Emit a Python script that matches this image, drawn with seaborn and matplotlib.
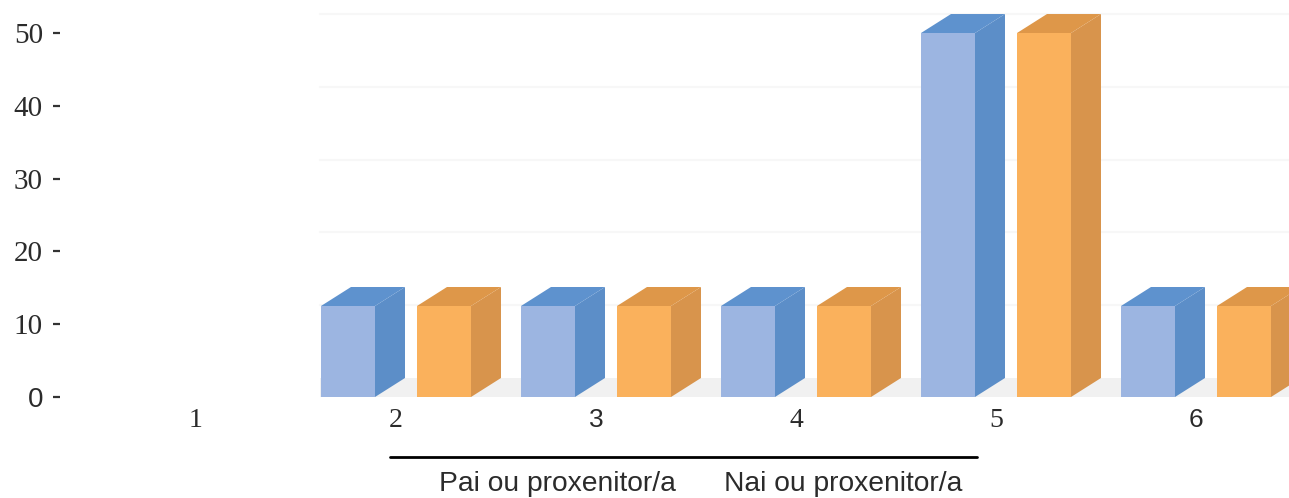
import numpy as np
import pandas as pd
import matplotlib
matplotlib.use("Agg")
import matplotlib.pyplot as plt
import seaborn as sns
from matplotlib.patches import Polygon
from matplotlib.lines import Line2D
import matplotlib.colors as mcolors

# ---- data ----
categories = ["1", "2", "3", "4", "5", "6"]
pai_values = [0, 12.5, 12.5, 12.5, 50, 12.5]
nai_values = [0, 12.5, 12.5, 12.5, 50, 12.5]
series_names = ["Pai ou proxenitor/a", "Nai ou proxenitor/a"]
y_ticks = [0, 10, 20, 30, 40, 50]

sns.set_theme(style="white")
SERIF = ["Liberation Serif", "DejaVu Serif"]
SANS = ["Liberation Sans", "DejaVu Sans"]
plt.rcParams["font.family"] = SANS

df = pd.DataFrame({
    "cat": categories * 2,
    "val": pai_values + nai_values,
    "serie": [series_names[0]] * len(categories) + [series_names[1]] * len(categories),
})

W, H = 1289, 498
PT = 72 / 100  # points per pixel at dpi 100
fig = plt.figure(figsize=(W / 100, H / 100), dpi=100)
fig.patch.set_facecolor("white")
ax = fig.add_axes([96 / W, 101 / H, 1200 / W, 393.1 / H])

front = ["#9CB5E1", "#FAB15C"]
side = ["#5C8EC8", "#D8944C"]
top = ["#5E92CE", "#DE9749"]

sns.barplot(data=df, x="cat", y="val", hue="serie", order=categories,
            hue_order=series_names, palette=front, width=0.96, gap=0.4375,
            linewidth=0, saturation=1, errorbar=None, legend=False, ax=ax)
ax.set_xlim(-0.5, 5.5)
ax.set_ylim(0, 54)

# pixel -> data scale for 3D extrusion
p0 = ax.transData.transform((0, 0))
p1 = ax.transData.transform((1, 1))
sx, sy = p1[0] - p0[0], p1[1] - p0[1]
dx, dy = 30 / sx, 19 / sy

# very faint back-wall gridlines and floor
for t in y_ticks[1:]:
    ax.plot([0.62, 5.5], [t + dy, t + dy], color="#f7f7f7", lw=1.6, zorder=0)
ax.fill_between([0.62, 5.5], 0, dy, color="#f1f1f1", lw=0, zorder=0)

bars = [p for p in ax.patches if p.get_height() > 0]
for p in bars:
    fc = mcolors.to_hex(p.get_facecolor())
    k = 0 if fc.lower() == front[0].lower() else 1
    x0, w, h = p.get_x(), p.get_width(), p.get_height()
    p.set_zorder(3)
    ax.add_patch(Polygon([(x0 + w, 0), (x0 + w + dx, dy), (x0 + w + dx, h + dy), (x0 + w, h)],
                         closed=True, facecolor=side[k], edgecolor="none", zorder=2))
    ax.add_patch(Polygon([(x0, h), (x0 + dx, h + dy), (x0 + w + dx, h + dy), (x0 + w, h)],
                         closed=True, facecolor=top[k], edgecolor="none", zorder=2))

for s in ax.spines.values():
    s.set_visible(False)
ax.spines["left"].set_position(("outward", 36 * PT))
ax.spines["left"].set_visible(True)
ax.spines["left"].set_color("none")

ax.set_yticks(y_ticks)
ax.set_yticklabels([str(t) for t in y_ticks])
ax.tick_params(axis="y", left=True, length=7 * PT, width=1.6, color="#333333",
               pad=10 * PT, labelcolor="#2b2b2b")
ax.tick_params(axis="x", bottom=False, length=0, pad=11 * PT, labelcolor="#2b2b2b")
ax.set_xlabel("")
ax.set_ylabel("")
ax.grid(False)

for lab in ax.get_yticklabels():
    if lab.get_text() == "0":
        lab.set_fontfamily(SANS)
        lab.set_fontsize(20)
    else:
        lab.set_fontfamily(SERIF)
        lab.set_fontsize(21)
for lab in ax.get_xticklabels():
    if lab.get_text() in ("3", "6"):
        lab.set_fontfamily(SANS)
        lab.set_fontsize(19)
    else:
        lab.set_fontfamily(SERIF)
        lab.set_fontsize(20)

# legend-like caption
fig.add_artist(Line2D([390 / W, 977 / W], [41 / H, 41 / H], transform=fig.transFigure,
                      color="black", lw=2))
fig.text(557 / W, 14 / H, series_names[0], ha="center", va="center", fontsize=20.3,
         color="#2b2b2b", family=SANS)
fig.text(843 / W, 14 / H, series_names[1], ha="center", va="center", fontsize=20.3,
         color="#2b2b2b", family=SANS)

fig.savefig("out.png", dpi=100, facecolor="white")
